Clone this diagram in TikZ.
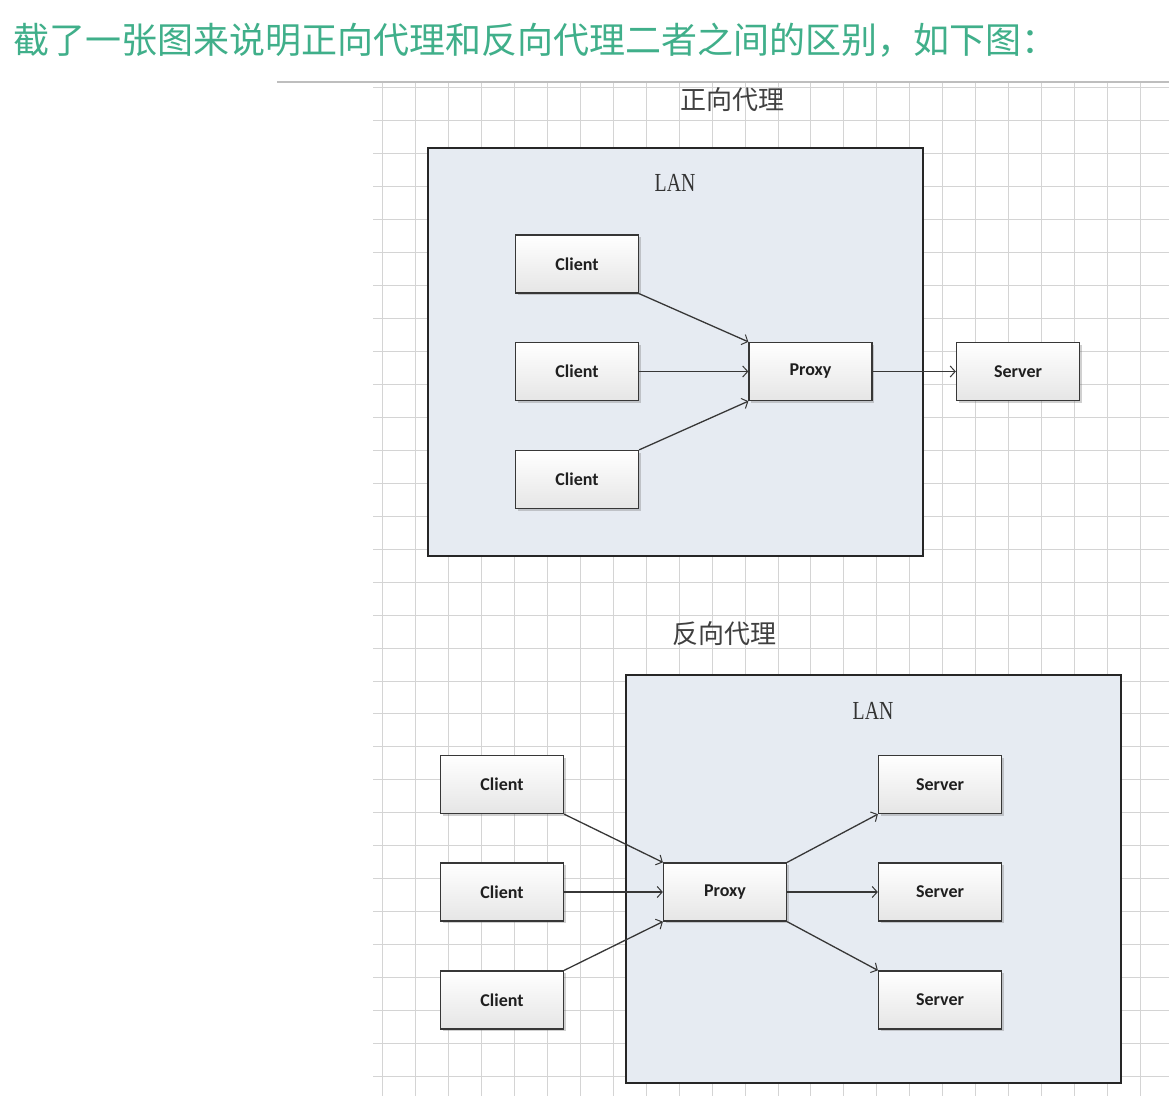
\documentclass[tikz,border=0pt]{standalone}
\usepackage{fontspec}
\usepackage{graphicx}
\usetikzlibrary{arrows.meta,shadows}
\newfontfamily\cjk{Noto Sans CJK SC}
\newfontfamily\boxfont{Carlito}
\newfontfamily\lanfont{Liberation Serif}
\definecolor{titlegreen}{RGB}{64,175,138}
\definecolor{gridc}{RGB}{212,212,212}
\definecolor{lanfill}{RGB}{230,235,242}
\definecolor{edgec}{RGB}{55,55,55}
\definecolor{topline}{RGB}{190,190,190}
\tikzset{
  gridline/.style={draw=gridc, line width=0.9pt},
  lanbox/.style={draw=black!85, line width=1.6pt, fill=lanfill},
  devbox/.style={draw=edgec, line width=1.3pt, top color=white, bottom color=black!10,
    minimum width=123pt, minimum height=58pt, inner sep=0pt,
    font=\boxfont\bfseries\fontsize{18}{21}\selectfont, text=black!88,
    drop shadow={shadow xshift=2pt, shadow yshift=-2pt, opacity=0.3, fill=black!60}},
  conn/.style={draw=edgec, line width=1.3pt, -{Straight Barb[length=5pt,width=11pt,line width=1pt]}},
  heading/.style={font=\cjk\fontsize{26}{30}\selectfont, text=black!75},
  lanlabel/.style={font=\lanfont\fontsize{26}{30}\selectfont, text=black!80},
}
\begin{document}
\begin{tikzpicture}[x=1pt,y=-1pt]
\useasboundingbox (0,0) rectangle (1169,1096);
\fill[white] (0,0) rectangle (1169,1096);
% title
\node[anchor=west, inner sep=0pt, text=titlegreen, font=\cjk\fontsize{36}{40}\selectfont] (title) at (13,40) {截了一张图来说明正向代理和反向代理二者之间的区别，如下图：};
% top rule
\draw[topline, line width=2pt] (277,82) -- (1169,82);
% grid
\foreach \i in {0,...,23} \draw[gridline] ({382.3+\i*32.97},83) -- ({382.3+\i*32.97},1096);
\foreach \j in {0,...,30} \draw[gridline] (373,{87.3+\j*32.98}) -- (1169,{87.3+\j*32.98});
% headings
\node[heading] (h1) at (732,100) {正向代理};
\node[heading] (h2) at (724,634) {反向代理};
% LAN boxes
\draw[lanbox] (428,148) rectangle (923,556);
\draw[lanbox] (626,675) rectangle (1121,1083);
\node[lanlabel] (lan1) at (675,183) {\scalebox{0.76}[1]{LAN}};
\node[lanlabel] (lan2) at (873,711) {\scalebox{0.76}[1]{LAN}};
% forward proxy
\node[devbox] (fc1) at (577,264) {Client};
\node[devbox] (fc2) at (577,371.5) {Client};
\node[devbox] (fc3) at (577,479.5) {Client};
\node[devbox] (fp) at (810.5,371.5) {Proxy};
\node[devbox] (fs) at (1018,371.5) {Server};
\draw[conn] (fc1.south east) -- (fp.north west);
\draw[conn] (fc2.east) -- (fp.west);
\draw[conn] (fc3.north east) -- (fp.south west);
\draw[conn] (fp.east) -- (fs.west);
% reverse proxy
\node[devbox] (rc1) at (502,784.5) {Client};
\node[devbox] (rc2) at (502,892) {Client};
\node[devbox] (rc3) at (502,1000) {Client};
\node[devbox] (rp) at (725,892) {Proxy};
\node[devbox] (rs1) at (940,784.5) {Server};
\node[devbox] (rs2) at (940,892) {Server};
\node[devbox] (rs3) at (940,1000) {Server};
\draw[conn] (rc1.south east) -- (rp.north west);
\draw[conn] (rc2.east) -- (rp.west);
\draw[conn] (rc3.north east) -- (rp.south west);
\draw[conn] (rp.north east) -- (rs1.south west);
\draw[conn] (rp.east) -- (rs2.west);
\draw[conn] (rp.south east) -- (rs3.north west);
\end{tikzpicture}
\end{document}
